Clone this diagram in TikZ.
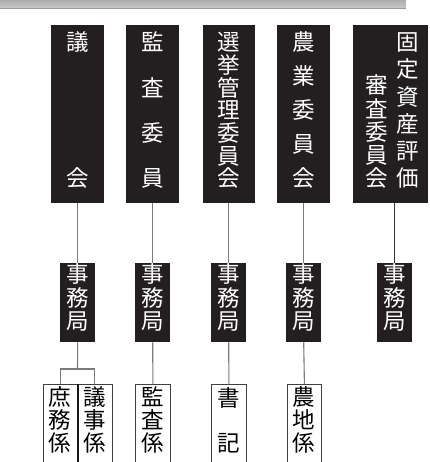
\documentclass[tikz,border=0pt]{standalone}
\usepackage{fontspec}
\setmainfont{Noto Sans CJK JP}
\definecolor{boxblack}{HTML}{231F20}
\definecolor{connc}{HTML}{7A7A7A}
\begin{document}
\begin{tikzpicture}[x=1pt,y=-1pt,
  topbox/.style={fill=boxblack, draw=none, inner sep=0pt, anchor=north west},
  subbox/.style={fill=white, draw=black!75, line width=0.8pt, inner sep=0pt, anchor=north west, minimum height=120pt},
  wch/.style={text=white, inner sep=0pt, font=\fontsize{22.5}{22.5}\selectfont, text height=0.88em, text depth=0.12em},
  bch/.style={text=black, inner sep=0pt, font=\fontsize{22.5}{22.5}\selectfont, text height=0.88em, text depth=0.12em},
  conn/.style={draw=connc, line width=1.1pt},
  conndark/.style={draw=black!80, line width=1.1pt}]
\useasboundingbox (0,0) rectangle (429,462);
\clip (0,0) rectangle (429,462);
% banner
\shade[top color=black!32, bottom color=black!22] (0,0) rectangle (406,8);
\draw[black!40, line width=0.6pt] (0,8) -- (406,8);
% top boxes
\node[topbox, minimum width=53pt, minimum height=178pt] (b1) at (51,25) {};
\node[topbox, minimum width=53pt, minimum height=178pt] (b2) at (126,25) {};
\node[topbox, minimum width=52pt, minimum height=178pt] (b3) at (203,25) {};
\node[topbox, minimum width=53pt, minimum height=178pt] (b4) at (277,25) {};
\node[topbox, minimum width=75pt, minimum height=178pt] (b5) at (353,25) {};
% top texts
\node[wch] (t1a) at (77.5,47) {議};
\node[wch] (t1b) at (77.5,183) {会};
\foreach \ch [count=\i from 0] in {監,査,委,員}
  \node[wch] (t2-\i) at (152.5,47+\i*45.33) {\ch};
\foreach \ch [count=\i from 0] in {選,挙,管,理,委,員,会}
  \node[wch] (t3-\i) at (229,47+\i*22.667) {\ch};
\foreach \ch [count=\i from 0] in {農,業,委,員,会}
  \node[wch] (t4-\i) at (303.5,47+\i*34) {\ch};
\foreach \ch [count=\i from 0] in {固,定,資,産,評,価}
  \node[wch] (t5r-\i) at (408,47+\i*27.2) {\ch};
\foreach \ch [count=\i from 0] in {審,査,委,員,会}
  \node[wch] (t5l-\i) at (377,90+\i*23.25) {\ch};
% jimukyoku boxes
\node[topbox, minimum width=35pt, minimum height=79pt] (j1) at (60,263) {};
\node[topbox, minimum width=35pt, minimum height=79pt] (j2) at (135,263) {};
\node[topbox, minimum width=35pt, minimum height=79pt] (j3) at (211,263) {};
\node[topbox, minimum width=35pt, minimum height=79pt] (j4) at (286,263) {};
\node[topbox, minimum width=35pt, minimum height=79pt] (j5) at (377,263) {};
\foreach \cx [count=\k] in {77.5,152.5,228.5,303.5,394.5}
  \foreach \ch [count=\i from 0] in {事,務,局}
    \node[wch] (jt\k-\i) at (\cx,279+\i*23.5) {\ch};
% sub boxes
\node[subbox, minimum width=34pt] (s1a) at (43,384) {};
\node[subbox, minimum width=35pt] (s1b) at (77,384) {};
\node[subbox, minimum width=35pt] (s2) at (135,384) {};
\node[subbox, minimum width=35pt] (s3) at (211,384) {};
\node[subbox, minimum width=34pt] (s4) at (287,384) {};
\draw[black!90, line width=1.4pt] (s1a.north east) -- (s1a.south east);
\foreach \ch [count=\i from 0] in {庶,務,係}
  \node[bch] (u1-\i) at (60,402+\i*23) {\ch};
\foreach \ch [count=\i from 0] in {議,事,係}
  \node[bch] (u2-\i) at (94.5,402+\i*23) {\ch};
\foreach \ch [count=\i from 0] in {監,査,係}
  \node[bch] (u3-\i) at (152.5,402+\i*23) {\ch};
\node[bch] (u4-0) at (228.5,403) {書};
\node[bch] (u4-1) at (228.5,448) {記};
\foreach \ch [count=\i from 0] in {農,地,係}
  \node[bch] (u5-\i) at (304,402+\i*23) {\ch};
% connectors
\draw[conn] (j1.north |- b1.south) -- (j1.north);
\draw[conn] (j2.north |- b2.south) -- (j2.north);
\draw[conn] (j3.north |- b3.south) -- (j3.north);
\draw[conn] (j4.north |- b4.south) -- (j4.north);
\draw[conndark] (j5.north |- b5.south) -- (j5.north);
\coordinate (br) at (77.5,369);
\draw[conn] (j1.south) -- (br);
\draw[conn] (s1a.north) -- (s1a.north |- br) -- (s1b.north |- br) -- (s1b.north);
\draw[conn] (j2.south) -- (s2.north);
\draw[conn] (j3.south) -- (s3.north);
\draw[conn] (j4.south) -- (s4.north);
\end{tikzpicture}
\end{document}
